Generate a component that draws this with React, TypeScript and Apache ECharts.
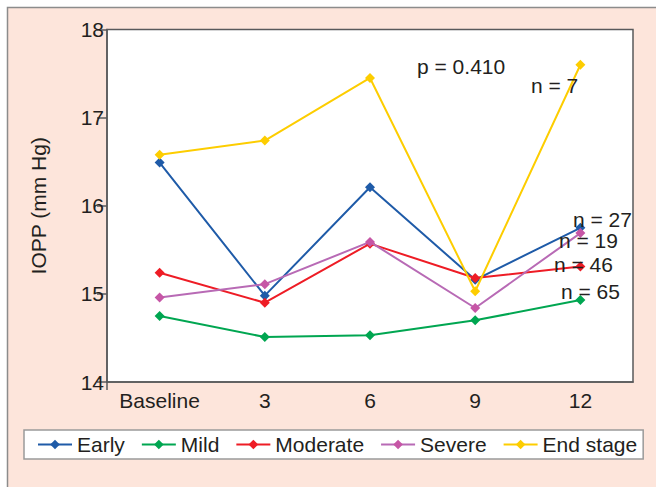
import React, { useEffect, useRef } from "react";
import * as echarts from "echarts";

const categories = ["Baseline", "3", "6", "9", "12"];
const seriesNames = ["Early", "Mild", "Moderate", "Severe", "End stage"];
const early = [16.49, 14.98, 16.21, 15.16, 15.75];
const mild = [14.75, 14.51, 14.53, 14.7, 14.93];
const moderate = [15.24, 14.9, 15.57, 15.18, 15.31];
const severe = [14.96, 15.11, 15.59, 14.84, 15.69];
const endStage = [16.58, 16.74, 17.45, 15.03, 17.6];
const yTicks = [14, 15, 16, 17, 18];
const annotations = [
  { text: "p = 0.410", x: 417, y: 66 },
  { text: "n = 7", x: 531, y: 85 },
  { text: "n = 27", x: 573, y: 219 },
  { text: "n = 19", x: 559, y: 240 },
  { text: "n = 46", x: 554, y: 264 },
  { text: "n = 65", x: 561, y: 291 },
];

const FONT = "'Liberation Sans', Arial, sans-serif";
const TEXT = "#231f20";
const AXIS = "#58595b";
const lineColors = ["#1f5ba8", "#00a651", "#ee1c25", "#b86ab5", "#fdcd00"];
const markColors = ["#1f5ba8", "#00a651", "#ee1c25", "#c656a6", "#fdcd00"];

export default function App() {
  const ref = useRef<HTMLDivElement>(null);
  useEffect(() => {
    if (!ref.current) return;
    const chart = echarts.init(ref.current, null, { renderer: "svg" });
    const datas = [early, mild, moderate, severe, endStage];
    chart.setOption({
      animation: false,
      backgroundColor: "#ffffff",
      textStyle: { fontFamily: FONT },
      graphic: [
        {
          type: "rect",
          z: -10,
          silent: true,
          shape: { x: 7.5, y: 7.5, width: 700, height: 600 },
          style: { fill: "#fde5db", stroke: "#8c8c8c", lineWidth: 1.5 },
        },
        {
          type: "line",
          silent: true,
          z: 50,
          shape: { x1: 107, y1: 382, x2: 107, y2: 390 },
          style: { stroke: AXIS, lineWidth: 1.5 },
        },
        ...annotations.map((a) => ({
          type: "text",
          x: a.x,
          y: a.y,
          z: 100,
          style: {
            text: a.text,
            fill: TEXT,
            font: `21px ${FONT}`,
            align: "left",
            verticalAlign: "middle",
          },
        })),
      ],
      grid: {
        left: 107,
        right: 23,
        top: 29.5,
        bottom: 105,
        show: true,
        backgroundColor: "#ffffff",
        borderColor: AXIS,
        borderWidth: 1.5,
      },
      legend: {
        left: 24,
        top: 430,
        width: 640,
        padding: [4, 6, 4, 13],
        backgroundColor: "#ffffff",
        borderColor: "#9a9a9a",
        borderWidth: 1.5,
        borderRadius: 0,
        itemWidth: 34,
        itemHeight: 12,
        itemGap: 16,
        data: seriesNames,
        textStyle: { fontSize: 21, color: TEXT, fontFamily: FONT },
      },
      xAxis: {
        type: "category",
        data: categories,
        boundaryGap: true,
        axisLine: { lineStyle: { color: AXIS, width: 1.5 } },
        axisTick: { show: false },
        axisLabel: { fontSize: 21, color: TEXT, margin: 8, fontFamily: FONT },
      },
      yAxis: {
        type: "value",
        min: yTicks[0],
        max: yTicks[yTicks.length - 1],
        interval: 1,
        name: "IOPP (mm Hg)",
        nameLocation: "middle",
        nameGap: 58,
        nameTextStyle: { fontSize: 21, color: TEXT, fontFamily: FONT },
        axisLine: { show: true, lineStyle: { color: AXIS, width: 1.5 } },
        axisTick: { show: true, length: 10, lineStyle: { color: AXIS, width: 1.5 } },
        axisLabel: { fontSize: 21, color: TEXT, margin: 3, fontFamily: FONT },
        splitLine: { show: false },
      },
      series: seriesNames.map((name, i) => ({
        name,
        type: "line",
        data: datas[i],
        symbol: "diamond",
        symbolSize: 10,
        showSymbol: true,
        lineStyle: { color: lineColors[i], width: 2 },
        itemStyle: { color: markColors[i] },
        z: 2 + i,
      })),
    });
    return () => chart.dispose();
  }, []);
  return (
    <div
      ref={ref}
      style={{ position: "fixed", left: 0, top: 0, width: 656, height: 487 }}
    />
  );
}
